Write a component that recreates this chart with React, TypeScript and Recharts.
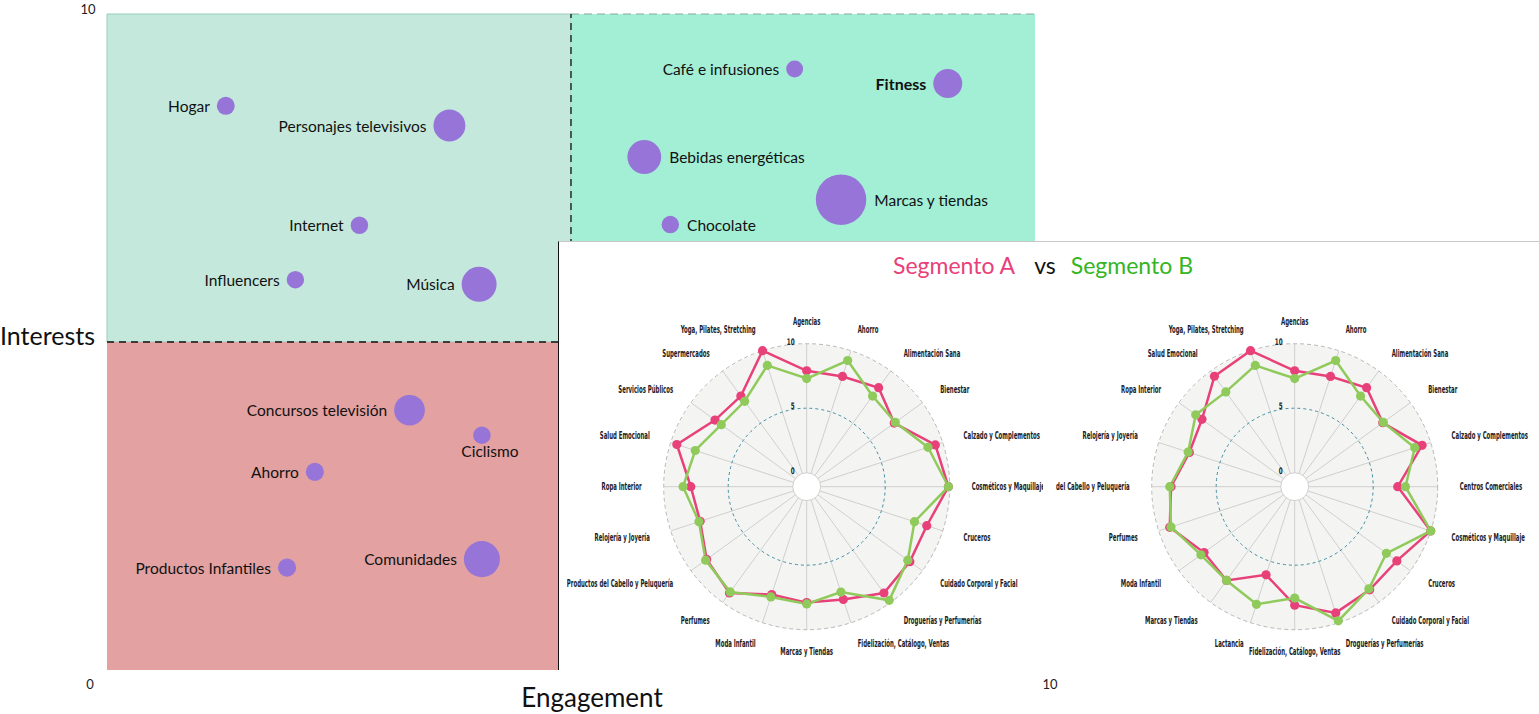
import React from 'react';
import {
  ScatterChart, Scatter, XAxis, YAxis, ZAxis, ReferenceArea, ReferenceLine,
  RadarChart, Radar, PolarGrid, PolarAngleAxis, PolarRadiusAxis,
} from 'recharts';

// bubble chart: engagement (x) vs interests (y), bubble size = reach
const TOPICS = [
  'Hogar', 'Personajes televisivos', 'Internet', 'Influencers', 'Música',
  'Café e infusiones', 'Fitness', 'Bebidas energéticas', 'Marcas y tiendas', 'Chocolate',
  'Concursos televisión', 'Ciclismo', 'Ahorro', 'Productos Infantiles', 'Comunidades',
];
const ENGAGEMENT = [1.28, 3.69, 2.72, 2.03, 4.01, 7.41, 9.06, 5.79, 7.91, 6.07, 3.26, 4.04, 2.24, 1.94, 4.04];
const INTERESTS = [8.6, 8.3, 6.78, 5.95, 5.88, 9.16, 8.94, 7.82, 7.17, 6.79, 3.96, 3.58, 3.02, 1.56, 1.69];
const REACH = [1.27, 4.0, 1.2, 1.2, 4.8, 1.13, 3.3, 4.5, 10, 1.2, 3.7, 1.2, 1.3, 1.3, 5.1];

const X_TICKS = [0, 10];
const Y_TICKS = [10];

// radar A (left)
const LEFT_CATS = [
  'Agencias', 'Ahorro', 'Alimentación Sana', 'Bienestar', 'Calzado y Complementos',
  'Cosméticos y Maquillaje', 'Cruceros', 'Cuidado Corporal y Facial', 'Droguerías y Perfumerías',
  'Fidelización, Catálogo, Ventas', 'Marcas y Tiendas', 'Moda Infantil', 'Perfumes',
  'Productos del Cabello y Peluquería', 'Relojería y Joyería', 'Ropa Interior', 'Salud Emocional',
  'Servicios Públicos', 'Supermercados', 'Yoga, Pilates, Stretching',
];
const LEFT_A = [7.9, 7.9, 8.4, 7.3, 9.4, 9.9, 8.7, 8.8, 9.1, 8.1, 7.9, 7.7, 9.1, 8.5, 7.6, 7.9, 9.5, 7.7, 7.6, 10.0];
const LEFT_B = [7.3, 9.2, 7.6, 7.4, 8.8, 9.9, 7.7, 8.6, 9.8, 7.5, 8.0, 7.9, 9.0, 8.6, 7.7, 8.5, 8.0, 7.1, 7.1, 8.8];

// radar B (right)
const RIGHT_CATS = [
  'Agencias', 'Ahorro', 'Alimentación Sana', 'Bienestar', 'Calzado y Complementos',
  'Centros Comerciales', 'Cosméticos y Maquillaje', 'Cruceros', 'Cuidado Corporal y Facial',
  'Droguerías y Perfumerías', 'Fidelización, Catálogo, Ventas', 'Lactancia', 'Marcas y Tiendas',
  'Moda Infantil', 'Perfumes', 'Productos del Cabello y Peluquería', 'Relojería y Joyería',
  'Ropa Interior', 'Salud Emocional', 'Yoga, Pilates, Stretching',
];
const RIGHT_A = [7.9, 7.9, 8.4, 7.35, 9.3, 6.9, 10.0, 8.7, 8.8, 9.2, 8.1, 6.1, 7.9, 7.6, 9.1, 8.5, 7.5, 7.8, 9.5, 10.0];
const RIGHT_B = [7.3, 9.2, 7.6, 7.4, 8.7, 7.5, 10.0, 7.7, 8.7, 9.85, 7.55, 8.5, 7.9, 7.9, 9.0, 8.6, 7.6, 8.4, 8.0, 8.8];

const LABEL_SIDE: Record<string, 'left' | 'right' | 'below'> = {
  'Bebidas energéticas': 'right',
  'Marcas y tiendas': 'right',
  'Chocolate': 'right',
  'Ciclismo': 'below',
};

const PINK = '#e8417a';
const GREEN = '#8fca5a';
const FONT = 'Lato, "Open Sans", sans-serif';
const NARROW = '"DejaVu Sans Condensed", "DejaVu Sans", sans-serif';

const bubbles = TOPICS.map((name, i) => ({ name, x: ENGAGEMENT[i], y: INTERESTS[i], z: REACH[i] }));
const leftData = LEFT_CATS.map((cat, i) => ({ cat, a: LEFT_A[i], b: LEFT_B[i] }));
const rightData = RIGHT_CATS.map((cat, i) => ({ cat, a: RIGHT_A[i], b: RIGHT_B[i] }));

const Bubble = (p: any) => {
  const { cx, cy, payload } = p;
  const r = p.size != null ? Math.sqrt(Math.max(p.size, 0) / Math.PI) : p.width / 2;
  const side = LABEL_SIDE[payload.name] ?? 'left';
  let tx = cx - r - 7;
  let ty = cy;
  let anchor: 'start' | 'end' | 'middle' = 'end';
  if (side === 'right') { tx = cx + r + 8; anchor = 'start'; }
  if (side === 'below') { tx = cx + 8; ty = cy + 16; anchor = 'middle'; }
  const bold = payload.name === 'Fitness';
  return (
    <g>
      <circle cx={cx} cy={cy} r={r} fill="#9775d8" />
      <text x={tx} y={ty} textAnchor={anchor} dominantBaseline="central"
        fontFamily={FONT} fontSize={bold ? 16 : 15.5} fontWeight={bold ? 700 : 400} fill="#111">
        {payload.name}
      </text>
    </g>
  );
};

const XTick = (p: any) => {
  const v = p.payload.value;
  return (
    <text x={p.x + (v === 0 ? -17 : 15)} y={684} textAnchor="middle" dominantBaseline="central"
      fontFamily={FONT} fontSize={13} fill="#222">{v}</text>
  );
};

const YTick = (p: any) => (
  <text x={88} y={p.y - 5} textAnchor="middle" dominantBaseline="central"
    fontFamily={FONT} fontSize={13} fill="#222">{p.payload.value}</text>
);

// condensed look: squeeze the glyphs horizontally around the anchor point
const AngleTick = (p: any) => (
  <text transform={`translate(${p.x},${p.y}) scale(0.6,1)`} x={0} y={0} textAnchor={p.textAnchor}
    dominantBaseline="central" fontFamily={NARROW} fontSize={10} fontWeight={700} fill="#1b1b26">
    {p.payload.value}
  </text>
);

const RadiusTick = (p: any) => (
  <text transform={`translate(${p.x - 12},${p.y - 2}) scale(0.7,1)`} x={0} y={0} textAnchor="end"
    dominantBaseline="central" fontFamily={NARROW} fontSize={9} fontWeight={700} fill="#222">
    {p.payload.value}
  </text>
);

const OUTER = 143;
const INNER = 14;

const makeDot = (color: string) => (p: any) => (
  <circle key={`dot-${p.index}`} cx={p.cx} cy={p.cy} r={4.6} fill={color} />
);

function SegmentRadar({ data, cx, cy, width }: { data: any[]; cx: number; cy: number; width: number }) {
  return (
    <>
      <div style={{
        position: 'absolute', left: cx - OUTER, top: cy - OUTER, width: OUTER * 2, height: OUTER * 2,
        borderRadius: '50%', background: '#f4f4f3',
      }} />
      <div style={{
        position: 'absolute', left: cx - INNER, top: cy - INNER, width: INNER * 2, height: INNER * 2,
        borderRadius: '50%', background: '#fff',
      }} />
      <div style={{ position: 'absolute', left: 0, top: 0 }}>
        <RadarChart width={width} height={429} data={data} cx={cx} cy={cy}
          innerRadius={INNER} outerRadius={OUTER} margin={{ top: 0, right: 0, bottom: 0, left: 0 }}>
          <PolarGrid gridType="circle" polarRadius={[INNER]} stroke="#cfcfcf" strokeWidth={1} />
          <PolarGrid gridType="circle" polarRadius={[OUTER]} radialLines={false} stroke="#b8b8b8" strokeDasharray="4 3" />
          <PolarGrid gridType="circle" polarRadius={[(INNER + OUTER) / 2]} radialLines={false} stroke="#3f8fa1" strokeDasharray="3 3" />
          <PolarAngleAxis dataKey="cat" tickSize={22} tickLine={false} axisLine={false} tick={AngleTick} />
          <PolarRadiusAxis type="number" angle={90} domain={[0, 10]} tickCount={3} axisLine={false} tickLine={false} tick={RadiusTick} />
          <Radar dataKey="a" stroke={PINK} strokeWidth={2.5} fill="none" fillOpacity={0}
            dot={makeDot(PINK)} isAnimationActive={false} />
          <Radar dataKey="b" stroke={GREEN} strokeWidth={2.5} fill="none" fillOpacity={0}
            dot={makeDot(GREEN)} isAnimationActive={false} />
        </RadarChart>
      </div>
    </>
  );
}

export default function App() {
  return (
    <div style={{ position: 'absolute', left: 0, top: 0, width: 1539, height: 714, background: '#fff', overflow: 'hidden' }}>
      <ScatterChart width={1539} height={714} margin={{ top: 14, right: 504, bottom: 0, left: 0 }}>
        <XAxis type="number" dataKey="x" domain={[0, 10]} ticks={X_TICKS} height={44}
          axisLine={false} tickLine={false} tick={XTick}
          label={{ content: () => (
            <text x={592} y={697} textAnchor="middle" dominantBaseline="central" fontFamily={FONT} fontSize={26} fill="#111">Engagement</text>
          ) }} />
        <YAxis type="number" dataKey="y" domain={[0, 10]} ticks={Y_TICKS} width={107}
          axisLine={false} tickLine={false} tick={YTick}
          label={{ content: () => (
            <text x={0} y={335} textAnchor="start" dominantBaseline="central" fontFamily={FONT} fontSize={25} fill="#111">Interests</text>
          ) }} />
        <ZAxis type="number" dataKey="z" domain={[0, 10]} range={[0, 2000]} />
        <ReferenceArea x1={0} x2={5} y1={5} y2={10} fill="#c4e9dc" fillOpacity={1} stroke="#97cdbb" strokeWidth={1} />
        <ReferenceArea x1={5} x2={10} y1={5} y2={10} fill="#a3efd6" fillOpacity={1} stroke="none" />
        <ReferenceArea x1={0} x2={5} y1={0} y2={5} fill="#e3a1a1" fillOpacity={1} stroke="none" />
        <ReferenceLine segment={[{ x: 5, y: 10 }, { x: 10, y: 10 }]} stroke="#8aa69c" strokeDasharray="8 5" />
        <ReferenceLine segment={[{ x: 0, y: 5 }, { x: 5, y: 5 }]} stroke="#111" strokeWidth={1.3} strokeDasharray="7 5" />
        <ReferenceLine segment={[{ x: 5, y: 5 }, { x: 5, y: 10 }]} stroke="#111" strokeWidth={1.3} strokeDasharray="7 5" />
        <Scatter data={bubbles} shape={Bubble} isAnimationActive={false} />
      </ScatterChart>

      <div style={{
        position: 'absolute', left: 558, top: 241, width: 981, height: 429, background: '#fff',
        borderTop: '1px solid #c8c8c8', borderLeft: '1px solid #111', boxSizing: 'border-box',
      }}>
        <div style={{ position: 'absolute', left: 8, top: 0, width: 476, height: 428, overflow: 'hidden' }}>
          <SegmentRadar data={leftData} cx={239.7} cy={244.7} width={476} />
        </div>
        <div style={{ position: 'absolute', left: 497, top: 0, width: 483, height: 428, overflow: 'hidden' }}>
          <SegmentRadar data={rightData} cx={238.7} cy={244.7} width={483} />
        </div>
        <div style={{
          position: 'absolute', left: 334, top: 8, whiteSpace: 'nowrap',
          fontFamily: FONT, fontSize: 23, lineHeight: '30px',
        }}>
          <span style={{ color: PINK }}>Segmento A</span>
          <span style={{ color: '#111', margin: '0 15px 0 19px' }}>vs</span>
          <span style={{ color: '#35b51f' }}>Segmento B</span>
        </div>
      </div>
    </div>
  );
}
